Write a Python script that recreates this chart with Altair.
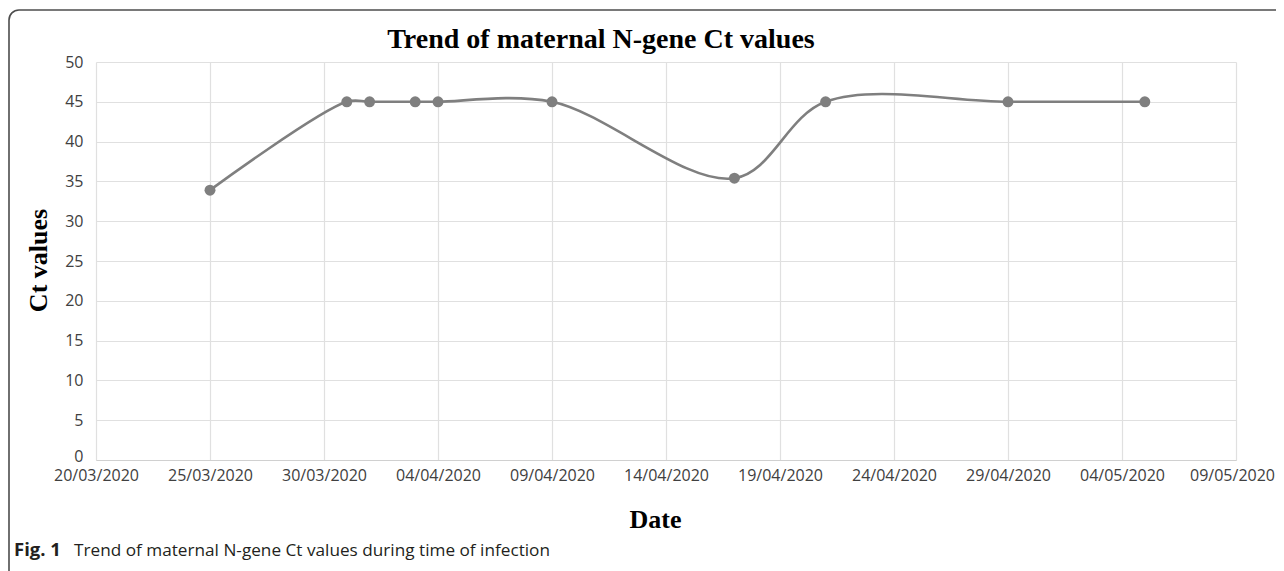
import altair as alt
import pandas as pd

# Data
dates = ["2020-03-25", "2020-03-31", "2020-04-01", "2020-04-03", "2020-04-04",
         "2020-04-09", "2020-04-17", "2020-04-21", "2020-04-29", "2020-05-05"]
ct_values = [33.9, 45, 45, 45, 45, 45, 35.4, 45, 45, 45]

tick_dates = ["2020-03-20", "2020-03-25", "2020-03-30", "2020-04-04", "2020-04-09",
              "2020-04-14", "2020-04-19", "2020-04-24", "2020-04-29", "2020-05-04",
              "2020-05-09"]
y_ticks = [0, 5, 10, 15, 20, 25, 30, 35, 40, 45, 50]

chart_title = "Trend of maternal N-gene Ct values"
x_title = "Date"
y_title = "Ct values"
caption_bold = "Fig. 1"
caption_rest = "Trend of maternal N-gene Ct values during time of infection"

df = pd.DataFrame({"date": dates, "ct": ct_values})

W, H = 1140, 398
GRAY = "#7f7f7f"


def dt(s):
    y, m, d = s.split("-")
    return alt.DateTime(year=int(y), month=int(m), date=int(d), utc=True)


x_enc = alt.X(
    "date:T",
    scale=alt.Scale(type="utc", domain=[dt(tick_dates[0]), dt(tick_dates[-1])]),
    axis=alt.Axis(
        values=[dt(t) for t in tick_dates],
        labelExpr="utcFormat(datum.value, '%d/%m/%Y')",
        title=x_title,
        titleFont="Liberation Serif",
        titleFontSize=26,
        titleFontWeight="bold",
        titleColor="#000000",
        titleX=559,
        titleY=67,
        titleAlign="center",
        titleBaseline="alphabetic",
        labelFont="Open Sans",
        labelFontSize=16,
        labelColor="#404040",
        labelPadding=7,
        labelOverlap=False,
        labelFlush=False,
        labelOffset={"condition": {"test": "datum.index == 1", "value": -4}, "value": 0},
        ticks=False,
        domainColor="#d0d0d0",
        domainWidth=1.2,
        grid=True,
        gridColor="#e0e0e0",
        gridWidth=1.2,
    ),
)

y_enc = alt.Y(
    "ct:Q",
    scale=alt.Scale(domain=[0, 50], nice=False),
    axis=alt.Axis(
        values=y_ticks,
        title=y_title,
        titleFont="Liberation Serif",
        titleFontSize=26,
        titleFontWeight="bold",
        titleColor="#000000",
        titleAngle=270,
        titleX=-50,
        titleY=198,
        titleAlign="center",
        titleBaseline="alphabetic",
        labelFont="Open Sans",
        labelFontSize=16,
        labelColor="#404040",
        labelPadding=13,
        labelOverlap=False,
        labelOffset={"condition": {"test": "datum.value == 0", "value": -4}, "value": 0},
        ticks=False,
        domain=False,
        grid=True,
        gridColor="#e0e0e0",
        gridWidth=1.2,
    ),
)

base = alt.Chart(df).encode(x=x_enc, y=y_enc)

line = base.mark_line(color=GRAY, strokeWidth=2.6, interpolate="catmull-rom")

points = base.mark_circle(color=GRAY, opacity=1, size=120)

deco = alt.Chart(pd.DataFrame({"k": [0]}))

title_mark = deco.mark_text(
    text=chart_title, font="Liberation Serif", fontSize=28, fontWeight="bold",
    color="#000000", align="center", baseline="alphabetic"
).encode(x=alt.value(505), y=alt.value(-14))

frame = deco.mark_rect(
    fill=None, fillOpacity=0, stroke="#4d4d4d", strokeWidth=1.6, cornerRadius=10
).encode(x=alt.value(-87), y=alt.value(-52), x2=alt.value(W + 200), y2=alt.value(H + 300))

cap1 = deco.mark_text(
    text=caption_bold, font="Open Sans", fontSize=18.5, fontWeight="bold",
    color="#231f20", align="left", baseline="alphabetic"
).encode(x=alt.value(-82), y=alt.value(494))

cap2 = deco.mark_text(
    text=caption_rest, font="Open Sans", fontSize=17.2, fontWeight="normal",
    color="#231f20", align="left", baseline="alphabetic"
).encode(x=alt.value(-22), y=alt.value(494))

chart = alt.layer(frame, line, points, title_mark, cap1, cap2).properties(
    width=W,
    height=H,
    autosize=alt.AutoSizeParams(type="none"),
    padding={"left": 88, "top": 54, "right": 40, "bottom": 111},
).configure_view(stroke=None)

chart.save("out.html", embed_options={"renderer": "svg", "actions": False})
